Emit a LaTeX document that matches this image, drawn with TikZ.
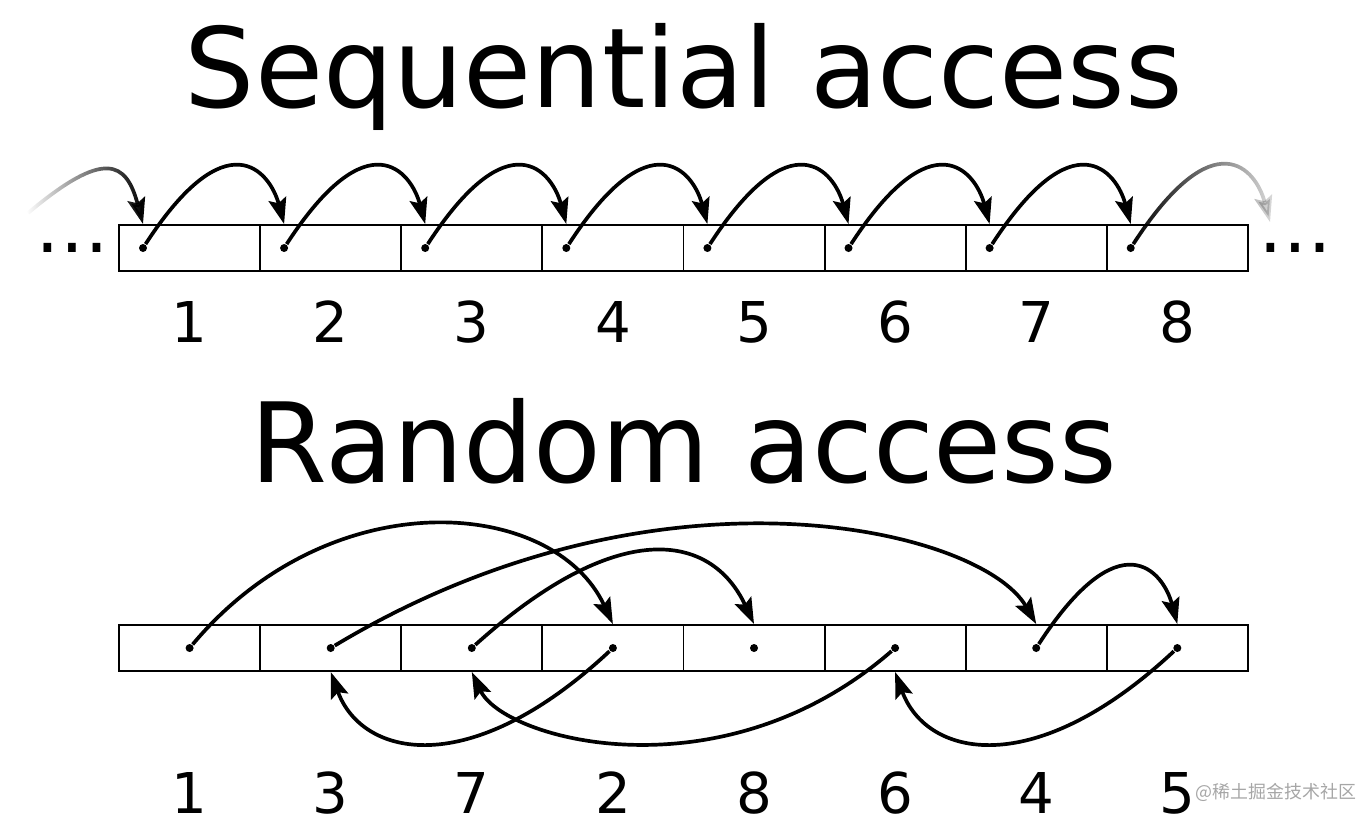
\documentclass[tikz,border=0pt]{standalone}
\usepackage{fontspec}
\setmainfont{DejaVu Sans}
\newfontfamily\cjkfont{Noto Sans CJK SC}
\usetikzlibrary{arrows.meta,fadings}

\tikzfading[name=fadein, left color=transparent!100, middle color=transparent!0, right color=transparent!0]
\tikzfading[name=fadeout, left color=transparent!0, middle color=transparent!35, right color=transparent!85]

\begin{document}
\begin{tikzpicture}[
    cell/.style={draw, line width=0.55pt, minimum width=1.411cm, minimum height=0.46cm, inner sep=0},
    dot/.style={circle, fill, inner sep=0, minimum size=0.08cm},
    idx/.style={inner sep=0, font=\fontsize{16}{16}\selectfont},
    title/.style={anchor=base, inner sep=0, font=\fontsize{31.5}{32}\selectfont},
    more/.style={inner sep=0, font=\fontsize{21}{21}\selectfont},
    arr/.style={-{Stealth[length=0.26cm, width=0.18cm, inset=0.045cm]}, line width=1.05pt}
]
    \useasboundingbox (0,0) rectangle (13.58,-8.22);

    % sequential access
    \node[title] (seqtitle) at (6.84,-1.07) {Sequential access};

    \node[cell] (s1) at (1.896,-2.48)  {};
    \node[cell] (s2) at (3.307,-2.48)  {};
    \node[cell] (s3) at (4.718,-2.48)  {};
    \node[cell] (s4) at (6.129,-2.48)  {};
    \node[cell] (s5) at (7.540,-2.48)  {};
    \node[cell] (s6) at (8.951,-2.48)  {};
    \node[cell] (s7) at (10.362,-2.48) {};
    \node[cell] (s8) at (11.773,-2.48) {};

    \node[dot] (sd1) at (1.430,-2.48)  {};
    \node[dot] (sd2) at (2.841,-2.48)  {};
    \node[dot] (sd3) at (4.252,-2.48)  {};
    \node[dot] (sd4) at (5.663,-2.48)  {};
    \node[dot] (sd5) at (7.074,-2.48)  {};
    \node[dot] (sd6) at (8.485,-2.48)  {};
    \node[dot] (sd7) at (9.896,-2.48)  {};
    \node[dot] (sd8) at (11.307,-2.48) {};

    \node[more] (ldots) at (0.72,-2.48) {…};
    \node[more] (rdots) at (12.95,-2.48) {…};

    \node[idx] (sn1) at (1.896,-3.22)  {1};
    \node[idx] (sn2) at (3.307,-3.22)  {2};
    \node[idx] (sn3) at (4.718,-3.22)  {3};
    \node[idx] (sn4) at (6.129,-3.22)  {4};
    \node[idx] (sn5) at (7.540,-3.22)  {5};
    \node[idx] (sn6) at (8.951,-3.22)  {6};
    \node[idx] (sn7) at (10.362,-3.22) {7};
    \node[idx] (sn8) at (11.773,-3.22) {8};

    \coordinate (fin)  at (0.28,-2.13);
    \coordinate (fout) at (12.70,-2.22);

    \draw[arr, path fading=fadein] (fin) .. controls +(40:1.0) and +(105:0.65) .. (sd1 |- s1.north);
    \draw[arr] (sd1) .. controls +(57:1.54) and +(105:0.55) .. (sd2 |- s2.north);
    \draw[arr] (sd2) .. controls +(57:1.54) and +(105:0.55) .. (sd3 |- s3.north);
    \draw[arr] (sd3) .. controls +(57:1.54) and +(105:0.55) .. (sd4 |- s4.north);
    \draw[arr] (sd4) .. controls +(57:1.54) and +(105:0.55) .. (sd5 |- s5.north);
    \draw[arr] (sd5) .. controls +(57:1.54) and +(105:0.55) .. (sd6 |- s6.north);
    \draw[arr] (sd6) .. controls +(57:1.54) and +(105:0.55) .. (sd7 |- s7.north);
    \draw[arr] (sd7) .. controls +(57:1.54) and +(105:0.55) .. (sd8 |- s8.north);
    \draw[arr, path fading=fadeout] (sd8) .. controls +(57:1.54) and +(105:0.55) .. (fout);

    % random access
    \node[title] (rndtitle) at (6.84,-4.82) {Random access};

    \node[cell] (r1) at (1.896,-6.48)  {};
    \node[cell] (r2) at (3.307,-6.48)  {};
    \node[cell] (r3) at (4.718,-6.48)  {};
    \node[cell] (r4) at (6.129,-6.48)  {};
    \node[cell] (r5) at (7.540,-6.48)  {};
    \node[cell] (r6) at (8.951,-6.48)  {};
    \node[cell] (r7) at (10.362,-6.48) {};
    \node[cell] (r8) at (11.773,-6.48) {};

    \node[dot] (rd1) at (r1) {};
    \node[dot] (rd2) at (r2) {};
    \node[dot] (rd3) at (r3) {};
    \node[dot] (rd4) at (r4) {};
    \node[dot] (rd5) at (r5) {};
    \node[dot] (rd6) at (r6) {};
    \node[dot] (rd7) at (r7) {};
    \node[dot] (rd8) at (r8) {};

    \node[idx] (rn1) at (1.896,-7.93)  {1};
    \node[idx] (rn2) at (3.307,-7.93)  {3};
    \node[idx] (rn3) at (4.718,-7.93)  {7};
    \node[idx] (rn4) at (6.129,-7.93)  {2};
    \node[idx] (rn5) at (7.540,-7.93)  {8};
    \node[idx] (rn6) at (8.951,-7.93)  {6};
    \node[idx] (rn7) at (10.362,-7.93) {4};
    \node[idx] (rn8) at (11.773,-7.93) {5};

    \draw[arr] (rd1) .. controls +(50:2.2) and +(115:1.4) .. (rd4 |- r4.north);
    \draw[arr] (rd4) .. controls +(223:1.96) and +(-70:0.91) .. (rd2 |- r2.south);
    \draw[arr] (rd2) .. controls +(31:3.83) and +(120:1.1) .. (rd7 |- r7.north);
    \draw[arr] (rd7) .. controls +(57:1.54) and +(105:0.55) .. (rd8 |- r8.north);
    \draw[arr] (rd8) .. controls +(223:1.96) and +(-70:0.91) .. (rd6 |- r6.south);
    \draw[arr] (rd6) .. controls +(221:2.3) and +(-65:0.75) .. (rd3 |- r3.south);
    \draw[arr] (rd3) .. controls +(42:1.95) and +(115:1.02) .. (rd5 |- r5.north);

    \node[anchor=west, inner sep=0, text=gray!70, font=\cjkfont\fontsize{5.1}{5.1}\selectfont] (mark) at (11.95,-7.92) {@稀土掘金技术社区};
\end{tikzpicture}
\end{document}
